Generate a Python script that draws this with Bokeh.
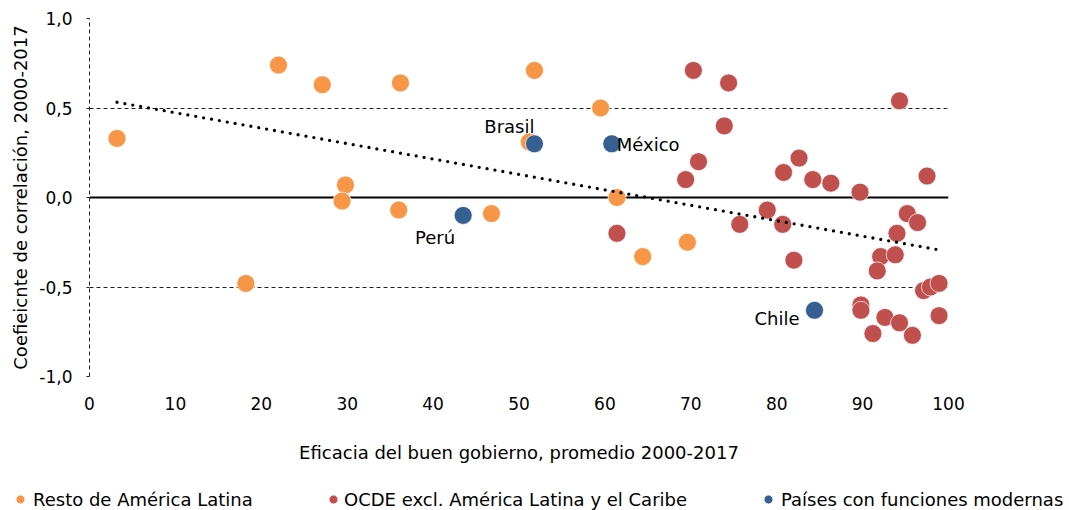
import numpy as np
from bokeh.plotting import figure
from bokeh.layouts import column
from bokeh.models import (Range1d, FixedTicker, CustomJSTickFormatter, Span,
                          Legend, LegendItem, ColumnDataSource)
from bokeh.core.properties import value
from bokeh.embed import file_html
from bokeh.resources import INLINE

# ---------------- data ----------------
orange_label = "Resto de América Latina"
orange_x = [3.2, 22.0, 27.1, 36.2, 51.8, 59.5, 51.2, 29.8, 29.4, 36.0, 46.8, 61.4, 64.4, 69.6, 18.2]
orange_y = [0.33, 0.74, 0.63, 0.64, 0.71, 0.50, 0.31, 0.07, -0.02, -0.07, -0.09, 0.00, -0.33, -0.25, -0.48]

red_label = "OCDE excl. América Latina y el Caribe"
red_x = [70.3, 74.4, 94.3, 73.9, 70.9, 69.4, 80.8, 82.6, 84.2, 86.3, 89.7, 97.5, 61.4, 75.7, 78.9,
         80.7, 82.0, 95.2, 96.4, 94.0, 92.1, 93.8, 91.7, 97.1, 97.9, 98.9, 89.8, 89.8, 92.6, 94.3,
         98.9, 91.2, 95.8]
red_y = [0.71, 0.64, 0.54, 0.40, 0.20, 0.10, 0.14, 0.22, 0.10, 0.08, 0.03, 0.12, -0.20, -0.15, -0.07,
         -0.15, -0.35, -0.09, -0.14, -0.20, -0.33, -0.32, -0.41, -0.52, -0.50, -0.48, -0.60, -0.63, -0.67, -0.70,
         -0.66, -0.76, -0.77]

blue_label = "Países con funciones modernas"
blue_names = ["Brasil", "México", "Perú", "Chile"]
blue_x = [51.8, 60.8, 43.5, 84.4]
blue_y = [0.30, 0.30, -0.10, -0.63]

x_ticks = [0, 10, 20, 30, 40, 50, 60, 70, 80, 90, 100]
y_ticks = [-1.0, -0.5, 0.0, 0.5, 1.0]
x_title = "Eficacia del buen gobierno, promedio 2000-2017"
y_title = "Coefieicnte de correlación, 2000-2017"

# ---------------- styles ----------------
FONT = "DejaVu Sans"
C_ORANGE = "#F79646"
C_RED = "#C0504D"
C_BLUE = "#366092"
MARK = dict(size=18, line_color="white", line_width=1, line_alpha=0.7)

p = figure(width=1069, height=468, output_backend="svg", toolbar_location=None,
           x_range=Range1d(0, 100), y_range=Range1d(-1, 1),
           min_border_left=89, min_border_right=121, min_border_top=18, min_border_bottom=92)
p.outline_line_color = None
p.background_fill_color = "white"
p.border_fill_color = "white"

# grid
p.xgrid.grid_line_color = None
p.ygrid.ticker = FixedTicker(ticks=y_ticks)
p.ygrid.grid_line_color = "#222222"
p.ygrid.grid_line_width = 1
p.ygrid.grid_line_dash = "4 3"

zero = Span(location=0, dimension="width", line_color="black", line_width=2, level="underlay")
p.add_layout(zero)

# axes
xa = p.xaxis[0]
xa.ticker = FixedTicker(ticks=x_ticks)
xa.axis_line_color = None
xa.major_tick_line_color = None
xa.minor_tick_line_color = None
xa.major_tick_out = 0
xa.major_label_standoff = 20
xa.major_label_text_font = FONT
xa.major_label_text_font_size = "17px"
xa.major_label_text_color = "black"
xa.axis_label = x_title
xa.axis_label_text_font = FONT
xa.axis_label_text_font_size = "18px"
xa.axis_label_text_font_style = "normal"
xa.axis_label_text_color = "black"
xa.axis_label_standoff = 29

ya = p.yaxis[0]
ya.ticker = FixedTicker(ticks=y_ticks)
ya.formatter = CustomJSTickFormatter(code="return tick.toFixed(1).replace('.', ',');")
ya.axis_line_color = "#222222"
ya.axis_line_dash = "4 3"
ya.major_tick_line_color = "#222222"
ya.major_tick_out = 3
ya.major_tick_in = 0
ya.minor_tick_line_color = None
ya.major_label_standoff = 14
ya.major_label_text_font = FONT
ya.major_label_text_font_size = "17px"
ya.major_label_text_color = "black"
ya.axis_label = y_title
ya.axis_label_text_font = FONT
ya.axis_label_text_font_size = "18px"
ya.axis_label_text_font_style = "normal"
ya.axis_label_text_color = "black"
ya.axis_label_standoff = 5

# points
p.scatter(orange_x, orange_y, fill_color=C_ORANGE, **MARK)
p.scatter(red_x, red_y, fill_color=C_RED, **MARK)
blue_src = ColumnDataSource(dict(x=blue_x, y=blue_y, name=blue_names))
p.scatter("x", "y", source=blue_src, fill_color=C_BLUE, **MARK)

# trend line (least squares over all points)
all_x = np.array(orange_x + red_x + blue_x)
all_y = np.array(orange_y + red_y + blue_y)
slope, intercept = np.polyfit(all_x, all_y, 1)
tx = np.array([all_x.min(), all_x.max()])
p.line(tx, slope * tx + intercept, line_color="black", line_width=3.3,
       line_dash="0 8", line_cap="round")

# country labels
label_style = {"Brasil": (0, -17, "right"), "México": (5, 1, "left"),
               "Perú": (-8, 22, "right"), "Chile": (-15, 8, "right")}
lab_src = ColumnDataSource(dict(
    x=blue_x, y=blue_y, text=blue_names,
    xo=[label_style[n][0] for n in blue_names],
    yo=[label_style[n][1] for n in blue_names],
    al=[label_style[n][2] for n in blue_names]))
p.text("x", "y", text="text", source=lab_src, x_offset="xo", y_offset="yo",
       text_align="al", text_baseline="alphabetic", text_font=value(FONT),
       text_font_size="18px", text_color="black")

# ---------------- legend strip ----------------
lf = figure(width=1069, height=42, output_backend="svg", toolbar_location=None,
            x_range=Range1d(0, 1), y_range=Range1d(0, 1),
            x_axis_type=None, y_axis_type=None,
            min_border_left=0, min_border_right=0, min_border_top=0, min_border_bottom=0)
lf.outline_line_color = None
lf.xgrid.visible = False
lf.ygrid.visible = False
lf.border_fill_color = "white"
lf.background_fill_color = "white"
for fig in (p, lf):
    if "frame_align" in fig.properties():
        fig.frame_align = False

# hidden copies of the series, used only for the legend swatches
sw_orange = lf.scatter(orange_x, orange_y, fill_color=C_ORANGE, visible=False, **MARK)
sw_red = lf.scatter(red_x, red_y, fill_color=C_RED, visible=False, **MARK)
sw_blue = lf.scatter(blue_x, blue_y, fill_color=C_BLUE, visible=False, **MARK)

def add_legend(label, rend, loc_x, standoff):
    leg = Legend(items=[LegendItem(label=label, renderers=[rend])],
                 location=(loc_x, 0), orientation="horizontal",
                 glyph_width=22, glyph_height=22, label_standoff=standoff,
                 padding=0, margin=0, spacing=0, click_policy="none",
                 background_fill_alpha=0, border_line_color=None,
                 label_text_font=FONT, label_text_font_size="18px",
                 label_text_color="black")
    lf.add_layout(leg)

add_legend(orange_label, sw_orange, 9, 2)
add_legend(red_label, sw_red, 322, 0)
add_legend(blue_label, sw_blue, 757, 2)

layout = column(p, lf, spacing=0)
open("out.html", "w").write(file_html(layout, INLINE))
